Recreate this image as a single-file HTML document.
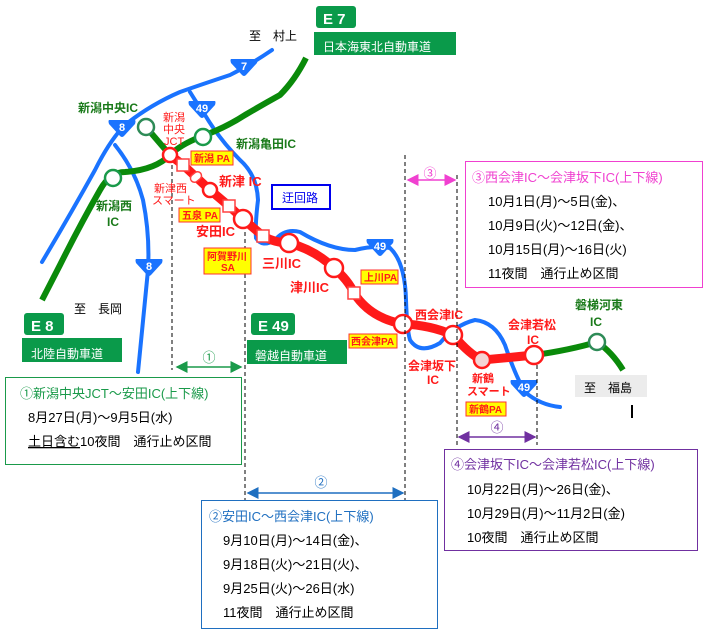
<!DOCTYPE html>
<html><head><meta charset="utf-8"><style>
html,body{margin:0;padding:0;background:#fff}
svg{display:block;font-family:"Liberation Sans","Noto Sans CJK JP",sans-serif}
</style></head><body>
<svg width="707" height="637" viewBox="0 0 707 637" xmlns="http://www.w3.org/2000/svg">
<defs>
<marker id="ag" markerWidth="8" markerHeight="8" refX="7" refY="4" orient="auto-start-reverse"><path d="M0,0L8,4L0,8z" fill="#1a9a4a"/></marker>
<marker id="ab" markerWidth="8" markerHeight="8" refX="7" refY="4" orient="auto-start-reverse"><path d="M0,0L8,4L0,8z" fill="#1f6fc0"/></marker>
<marker id="am" markerWidth="8" markerHeight="8" refX="7" refY="4" orient="auto-start-reverse"><path d="M0,0L8,4L0,8z" fill="#f040d0"/></marker>
<marker id="ap" markerWidth="8" markerHeight="8" refX="7" refY="4" orient="auto-start-reverse"><path d="M0,0L8,4L0,8z" fill="#7030a0"/></marker>
<path id="sh" d="M-13,-8 L13,-8 Q14,-7 13,-4 L2,8 Q0,10 -2,8 L-13,-4 Q-14,-7 -13,-8 Z"/>
</defs>
<g fill="none" stroke="#1a73ff" stroke-width="4" stroke-linecap="round">
<path d="M272,50 Q250,65 230,75 Q200,85 180,92 Q150,105 125,125 Q110,140 95,170 Q70,215 42,262"/>
<path d="M115,145 Q135,170 143,200 Q150,235 148,270 L138,372"/>
<path d="M190,92 Q198,105 205,115 Q220,140 240,160 Q257,175 258,200 Q255,225 256,238 Q262,248 275,240 Q285,228 300,232 Q330,250 355,250 Q375,245 390,248 Q405,262 406,300 Q407,330 410,340 Q420,355 440,343 Q455,325 475,320 Q495,322 505,345 Q515,375 525,392 Q540,405 560,407"/>
</g>
<g fill="none" stroke="#0a8a0a" stroke-width="6" stroke-linecap="butt">
<path d="M306,58 Q295,80 280,95 Q262,105 245,115 Q225,128 200,137 Q180,145 170,155 Q155,170 125,172 Q110,172 100,190 Q80,225 60,265 L42,300"/>
<path d="M146,127 L170,155"/>
<path d="M535,355 Q570,350 597,342 Q612,352 623,370"/>
</g>
<path d="M170,155 L183,165 L196,177 L210,190 L229,206 L243,219 L263,236 Q275,243 289,243 Q315,250 334,268 Q348,280 354,293 Q370,318 403,324 Q430,325 453,335 Q470,355 482,360 Q505,358 534,355" fill="none" stroke="#ff1a1a" stroke-width="9"/>
<g font-size="11" font-weight="bold" fill="#fff" text-anchor="middle">
<use href="#sh" x="244" y="67" fill="#1a73ff"/><text x="244" y="70">7</text>
<use href="#sh" x="202" y="109" fill="#1a73ff"/><text x="202" y="112">49</text>
<use href="#sh" x="122" y="128" fill="#1a73ff"/><text x="122" y="131">8</text>
<use href="#sh" x="149" y="267" fill="#1a73ff"/><text x="149" y="270">8</text>
<use href="#sh" x="380" y="247" fill="#1a73ff"/><text x="380" y="250">49</text>
<use href="#sh" x="524" y="388" fill="#1a73ff"/><text x="524" y="391">49</text>
</g>
<g stroke-width="2.5">
<circle cx="146" cy="127" r="8" fill="#fff" stroke="#2e8b57"/>
<circle cx="203" cy="137" r="8" fill="#fff" stroke="#1a9a4a"/>
<circle cx="113" cy="178" r="8" fill="#fff" stroke="#1a9a4a"/>
<circle cx="597" cy="342" r="8" fill="#fff" stroke="#2e8b57"/>
<circle cx="170" cy="155" r="7" fill="#fff" stroke="#ff1a1a"/>
<circle cx="210" cy="190" r="7" fill="#fff" stroke="#ff1a1a"/>
<circle cx="243" cy="219" r="9" fill="#fff" stroke="#ff1a1a"/>
<circle cx="289" cy="243" r="9" fill="#fff" stroke="#ff1a1a"/>
<circle cx="334" cy="268" r="9" fill="#fff" stroke="#ff1a1a"/>
<circle cx="403" cy="324" r="9" fill="#fff" stroke="#ff1a1a"/>
<circle cx="453" cy="335" r="9" fill="#fff" stroke="#ff1a1a"/>
<circle cx="482" cy="360" r="8" fill="#f4d4d4" stroke="#ff1a1a"/>
<circle cx="534" cy="355" r="9" fill="#fff" stroke="#ff1a1a"/>
</g>
<g fill="#fff" stroke="#ff4040" stroke-width="1.5">
<rect x="177" y="159" width="12" height="12"/>
<rect x="223" y="200" width="12" height="12"/>
<rect x="257" y="230" width="12" height="12"/>
<rect x="348" y="287" width="12" height="12"/>
<rect x="190" y="173" width="12" height="8" rx="4" transform="rotate(-40 196 177)"/>
</g>
<g stroke="#000" stroke-width="1" stroke-dasharray="4,3">
<line x1="172" y1="165" x2="172" y2="370"/>
<line x1="245" y1="232" x2="245" y2="500"/>
<line x1="405" y1="155" x2="405" y2="500"/>
<line x1="457" y1="175" x2="457" y2="445"/>
<line x1="537" y1="365" x2="537" y2="445"/>
</g>
<line x1="177" y1="367" x2="241" y2="367" stroke="#1a9a4a" stroke-width="1.5" marker-start="url(#ag)" marker-end="url(#ag)"/>
<line x1="248" y1="493" x2="403" y2="493" stroke="#1f6fc0" stroke-width="1.5" marker-start="url(#ab)" marker-end="url(#ab)"/>
<line x1="408" y1="180" x2="455" y2="180" stroke="#f040d0" stroke-width="1.5" marker-start="url(#am)" marker-end="url(#am)"/>
<line x1="459" y1="437" x2="535" y2="437" stroke="#7030a0" stroke-width="1.5" marker-start="url(#ap)" marker-end="url(#ap)"/>
<g font-size="13" text-anchor="middle">
<text x="209" y="362" fill="#1a9a4a">①</text>
<text x="321" y="487" fill="#1f6fc0">②</text>
<text x="430" y="178" fill="#f040d0">③</text>
<text x="497" y="432" fill="#7030a0">④</text>
</g>
<g fill="#0a9a4a">
<rect x="316" y="6" width="40" height="22" rx="3"/><rect x="314" y="32" width="142" height="23"/>
<rect x="24" y="313" width="40" height="22" rx="3"/><rect x="22" y="338" width="100" height="24"/>
<rect x="251" y="313" width="44" height="22" rx="3"/><rect x="247" y="340" width="100" height="24"/>
</g>
<g fill="#fff" font-size="15" font-weight="bold">
<text x="323" y="24">E 7</text><text x="31" y="331">E 8</text><text x="258" y="331">E 49</text>
</g>
<g fill="#fff" font-size="12">
<text x="323" y="51">日本海東北自動車道</text><text x="31" y="358">北陸自動車道</text><text x="255" y="360">磐越自動車道</text>
</g>
<g font-size="12" fill="#000">
<text x="249" y="40">至　村上</text>
<text x="74" y="313">至　長岡</text>
</g>
<rect x="575" y="375" width="72" height="22" fill="#ececec"/>
<text x="584" y="392" font-size="12">至　福島</text>
<line x1="632" y1="405" x2="632" y2="418" stroke="#000" stroke-width="2"/>
<g fill="#1a7a1a" font-size="12" font-weight="bold">
<text x="78" y="112">新潟中央IC</text>
<text x="236" y="148">新潟亀田IC</text>
<text x="96" y="210">新潟西</text>
<text x="107" y="226">IC</text>
<text x="575" y="309">磐梯河東</text>
<text x="590" y="326">IC</text>
</g>
<g fill="#ff1a1a" font-weight="bold">
<text x="163" y="121" font-size="11" font-weight="normal">新潟</text>
<text x="163" y="133" font-size="11" font-weight="normal">中央</text>
<text x="164" y="145" font-size="11" font-weight="normal">JCT</text>
<text x="154" y="192" font-size="11" font-weight="normal">新津西</text>
<text x="152" y="204" font-size="11" font-weight="normal">スマート</text>
<text x="219" y="186" font-size="13">新津 IC</text>
<text x="196" y="236" font-size="13">安田IC</text>
<text x="262" y="268" font-size="13">三川IC</text>
<text x="290" y="292" font-size="13">津川IC</text>
<text x="415" y="319" font-size="12">西会津IC</text>
<text x="408" y="370" font-size="12">会津坂下</text>
<text x="427" y="384" font-size="12">IC</text>
<text x="508" y="329" font-size="12">会津若松</text>
<text x="527" y="344" font-size="12">IC</text>
<text x="472" y="382" font-size="11">新鶴</text>
<text x="467" y="395" font-size="11">スマート</text>
</g>
<g fill="#ffff00" stroke="#ff3030" stroke-width="1">
<rect x="191" y="151" width="42" height="14"/>
<rect x="179" y="208" width="41" height="14"/>
<rect x="204" y="248" width="47" height="26"/>
<rect x="361" y="270" width="37" height="14"/>
<rect x="349" y="334" width="48" height="14"/>
<rect x="466" y="402" width="40" height="14"/>
</g>
<g fill="#ff1a1a" font-size="10" font-weight="bold">
<text x="194" y="162">新潟 PA</text>
<text x="182" y="219">五泉 PA</text>
<text x="207" y="260">阿賀野川</text>
<text x="221" y="271">SA</text>
<text x="364" y="281">上川PA</text>
<text x="351" y="345">西会津PA</text>
<text x="469" y="413">新鶴PA</text>
</g>
<rect x="272" y="185" width="58" height="24" fill="#fff" stroke="#0000ee" stroke-width="2"/>
<text x="282" y="202" font-size="12" fill="#0000ee">迂回路</text>
<rect x="5.5" y="377.5" width="236" height="87" fill="#fff" stroke="#1a9a4a"/>
<g font-size="13">
<text x="20" y="398" fill="#1a9a4a">①新潟中央JCT～安田IC(上下線)</text>
<text x="28" y="422">8月27日(月)～9月5日(水)</text>
<text x="28" y="446"><tspan text-decoration="underline">土日含む</tspan>10夜間　通行止め区間</text>
</g>
<rect x="201.5" y="500.5" width="236" height="128" fill="#fff" stroke="#1f6fc0"/>
<g font-size="13">
<text x="209" y="521" fill="#1f6fc0">②安田IC～西会津IC(上下線)</text>
<text x="223" y="545">9月10日(月)～14日(金)、</text>
<text x="223" y="569">9月18日(火)～21日(火)、</text>
<text x="223" y="593">9月25日(火)～26日(水)</text>
<text x="223" y="617">11夜間　通行止め区間</text>
</g>
<rect x="465.5" y="161.5" width="237" height="126" fill="#fff" stroke="#f040d0"/>
<g font-size="13">
<text x="472" y="182" fill="#f040d0">③西会津IC～会津坂下IC(上下線)</text>
<text x="488" y="206">10月1日(月)～5日(金)、</text>
<text x="488" y="230">10月9日(火)～12日(金)、</text>
<text x="488" y="254">10月15日(月)～16日(火)</text>
<text x="488" y="278">11夜間　通行止め区間</text>
</g>
<rect x="444.5" y="449.5" width="253" height="101" fill="#fff" stroke="#7030a0"/>
<g font-size="13">
<text x="451" y="469" fill="#7030a0">④会津坂下IC～会津若松IC(上下線)</text>
<text x="467" y="494">10月22日(月)～26日(金)、</text>
<text x="467" y="518">10月29日(月)～11月2日(金)</text>
<text x="467" y="542">10夜間　通行止め区間</text>
</g>
</svg>
</body></html>
